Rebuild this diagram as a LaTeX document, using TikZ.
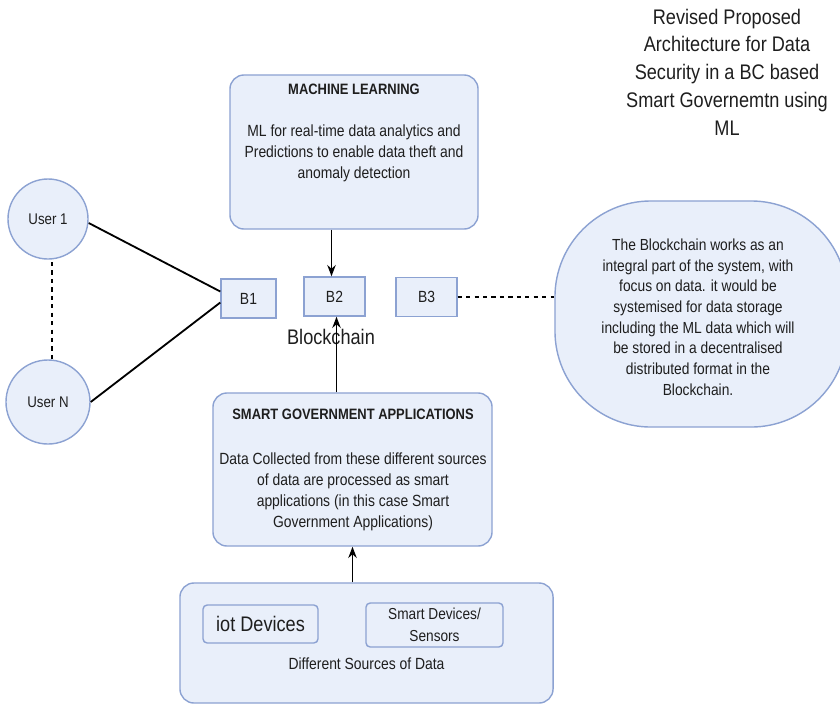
\documentclass[tikz,border=0pt]{standalone}
\usepackage{fontspec}
\setmainfont[FakeStretch=0.86]{Liberation Sans}
\usetikzlibrary{arrows.meta,calc}

\definecolor{boxfill}{RGB}{233,239,250}
\definecolor{boxline}{RGB}{140,162,210}
\definecolor{txt}{RGB}{30,30,30}

\begin{document}
\begin{tikzpicture}[x=0.025cm, y=-0.025cm]
  \tikzstyle{bloc}=[draw=boxline, fill=boxfill, line width=1pt, rounded corners=10pt, inner sep=0];
  \tikzstyle{blk}=[draw=boxline, fill=boxfill, line width=1pt, inner sep=0, minimum height=0.975cm, font=\fontsize{11.5}{13}\selectfont, text=txt];
  \tikzstyle{user}=[circle, draw=boxline, fill=boxfill, line width=1pt, inner sep=0, font=\fontsize{11}{13}\selectfont, text=txt];
  \tikzstyle{texte}=[align=center, inner sep=0, text=txt, font=\fontsize{11.5}{15}\selectfont];
  \tikzstyle{titre}=[inner sep=0, text=txt, font=\fontsize{10.7}{12}\selectfont\bfseries];
  \tikzstyle{fleche}=[-{Stealth[length=8pt, width=6pt]}, line width=1.1pt];

  \useasboundingbox (0, 0) rectangle (840, 705);

  % titre
  \node[texte, font=\fontsize{15}{19.7}\selectfont] (titre) at (727, 72)
    {Revised Proposed\\Architecture for Data\\Security in a BC based\\Smart Governemtn using\\ML};

  % machine learning
  \node[bloc, minimum width=6.2cm, minimum height=3.85cm] (ML) at (354, 152) {};
  \node[titre] (MLt) at (354, 89) {MACHINE LEARNING};
  \node[texte] (MLb) at (354, 153)
    {ML for real-time data analytics and\\Predictions to enable data theft and\\anomaly detection};

  % blockchain
  \node[blk, minimum width=1.375cm] (B1) at (248.5, 298.5) {B1};
  \node[blk, minimum width=1.525cm] (B2) at (334.5, 296.5) {B2};
  \node[blk, minimum width=1.525cm] (B3) at (426.5, 297) {B3};
  \node[texte, font=\fontsize{15}{17}\selectfont] (BC) at (331, 337) {Blockchain};

  % utilisateurs
  \node[user, minimum size=2cm] (U1) at (48, 219) {User 1};
  \node[user, minimum size=2.1cm] (UN) at (48, 402) {User N};
  \draw[dashed, line width=0.8pt] (52, 262) -- (52, 363);
  \draw[line width=1.3pt] ($(U1.east)+(0,4)$) -- ($(B1.west)+(0,-7)$);
  \draw[line width=1.3pt] (UN.east) -- ($(B1.west)+(0,4)$);

  % description
  \node[draw=boxline, fill=boxfill, line width=1pt, rounded corners=2.4cm, minimum width=7.3cm, minimum height=5.65cm] (desc) at (701, 314) {};
  \node[texte, font=\fontsize{11.4}{14.7}\selectfont] (desct) at (698, 317)
    {The Blockchain works as an\\integral part of the system, with\\focus on data. it would be\\systemised for data storage\\including the ML data which will\\be stored in a decentralised\\distributed format in the\\Blockchain.};
  \draw[dashed, line width=1pt] (B3.east) -- (desc.west |- B3.east);

  % applications
  \node[bloc, minimum width=6.975cm, minimum height=3.825cm] (SGA) at (352.5, 469.5) {};
  \node[titre] (SGAt) at (353, 414) {SMART GOVERNMENT APPLICATIONS};
  \node[texte] (SGAb) at (353, 492)
    {Data Collected from these different sources\\of data are processed as smart\\applications (in this case Smart\\Government Applications)};

  % sources
  \node[bloc, minimum width=9.325cm, minimum height=3cm] (src) at (366.5, 643) {};
  \node[blk, rounded corners=3pt, minimum width=2.875cm, minimum height=0.95cm, font=\fontsize{15}{17}\selectfont] (iot) at (260.5, 624) {iot Devices};
  \node[blk, rounded corners=3pt, minimum width=3.425cm, minimum height=1.1cm, align=center, font=\fontsize{11.3}{15.5}\selectfont] (smart) at (434.5, 625) {Smart Devices/\\Sensors};
  \node[texte] (srct) at (366.5, 664) {Different Sources of Data};

  % fleches
  \draw[fleche] ($(ML.south -| B2.north)+(-3,0)$) -- ($(B2.north)+(-3,0)$);
  \draw[fleche] ($(SGA.north -| B2.south)+(2,0)$) -- ($(B2.south)+(2,0)$);
  \draw[fleche] (src.north -| SGA.south) -- (SGA.south);
\end{tikzpicture}
\end{document}
